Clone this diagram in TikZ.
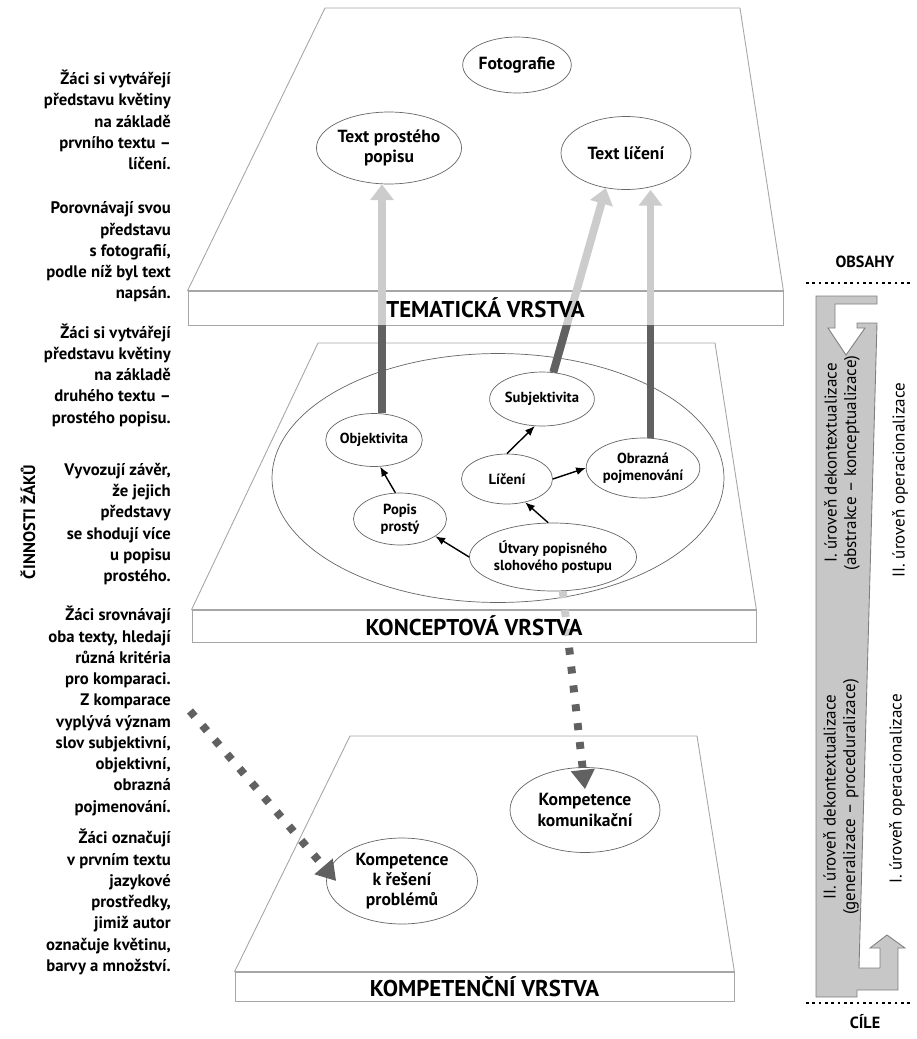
\documentclass[tikz,border=0pt]{standalone}
\usepackage{fontspec}
\setmainfont{PT Sans}
\usetikzlibrary{shapes.geometric,arrows.meta}

\tikzset{
  plane/.style={draw=black!35, fill=white, line width=0.5pt},
  slab/.style={draw=black!35, fill=white, line width=0.5pt, inner sep=0pt},
  layer/.style={font=\bfseries\fontsize{13}{15}\selectfont},
  bubble/.style={ellipse, draw=black!60, fill=white, inner sep=0pt, align=center,
    font=\bfseries\fontsize{10}{11.5}\selectfont},
  smallbubble/.style={bubble, font=\bfseries\fontsize{8.3}{9.6}\selectfont},
  pointer/.style={line width=0.8pt, -{Latex[length=5.5pt,width=4.5pt]}},
  lightbar/.style={line width=4.5pt, draw=black!20, -{Triangle[length=9pt,width=13pt]}},
  darkbar/.style={line width=4.5pt, draw=black!62},
  dashbar/.style={line width=4.5pt, draw=black!62, dash pattern=on 4pt off 6.8pt,
    -{Triangle[length=11pt,width=13pt]}},
  lightdash/.style={line width=4.5pt, draw=black!20, dash pattern=on 4pt off 6.8pt},
  activity/.style={anchor=east, align=right, font=\bfseries\fontsize{9.5}{12.1}\selectfont},
  band/.style={draw=black!50, fill=black!22, line width=0.5pt},
  side/.style={rotate=90, align=center, font=\fontsize{9.7}{11}\selectfont},
  pole/.style={font=\bfseries\fontsize{9.2}{11}\selectfont},
  rule/.style={line width=1.5pt, dash pattern=on 1.5pt off 2.1pt}
}

\begin{document}
\begin{tikzpicture}[x=0.02cm, y=-0.02cm]
  \useasboundingbox (0,0) rectangle (917,1039);

  % tematicka vrstva
  \node [slab, minimum width=11.9cm, minimum height=0.68cm] (temslab) at (485.5,308) {};
  \draw [plane] (325,8) -- (740,8) -- (temslab.north east) -- (temslab.north west) -- cycle;
  \node [bubble, minimum width=2cm, minimum height=1.12cm] (foto) at (517,65) {Fotografie};
  \node [bubble, minimum width=2.56cm, minimum height=1.44cm] (tpp) at (389,148) {Text prostého\\popisu};
  \node [bubble, minimum width=2.6cm, minimum height=1.46cm] (tli) at (626,153) {Text líčení};

  % konceptova vrstva
  \node [slab, minimum width=11.28cm, minimum height=0.64cm] (konslab) at (474,626) {};
  \draw [plane] (318,343) -- (715,343) -- (konslab.north east) -- (konslab.north west) -- cycle;
  \node [ellipse, draw=black!60, minimum width=9.04cm, minimum height=4.98cm] (konc) at (498,478) {};
  \node [smallbubble, minimum width=1.84cm, minimum height=1.06cm] (obj) at (374,440) {Objektivita};
  \node [smallbubble, minimum width=1.84cm, minimum height=1.08cm] (subj) at (542,399) {Subjektivita};
  \node [smallbubble, minimum width=1.82cm, minimum height=1cm] (lic) at (507,479) {Líčení};
  \node [smallbubble, minimum width=2.2cm, minimum height=1.2cm] (obr) at (643,468) {Obrazná\\pojmenování};
  \node [smallbubble, minimum width=1.86cm, minimum height=1.04cm] (pop) at (400,519) {Popis\\prostý};
  \node [smallbubble, minimum width=2.86cm, minimum height=1.36cm] (utv) at (553,557) {Útvary popisného\\slohového postupu};

  \draw [pointer] (pop.100) -- (obj.283);
  \draw [pointer] (utv.west) -- (pop.-26);
  \draw [pointer] (utv.98) -- (lic.-52);
  \draw [pointer] (lic.north) -- (subj.255);
  \draw [pointer] (lic.east) -- (obr.west);

  % kompetencni vrstva
  \node [slab, minimum width=9.98cm, minimum height=0.58cm] (kmpslab) at (484.5,986.5) {};
  \draw [plane] (350,736) -- (697,736) -- (kmpslab.north east) -- (kmpslab.north west) -- cycle;
  \node [bubble, minimum width=3cm, minimum height=1.7cm] (kom) at (585,810) {Kompetence\\komunikační};
  \node [bubble, minimum width=3.02cm, minimum height=1.72cm] (res) at (402,881) {Kompetence\\k řešení\\problémů};

  % vazby mezi vrstvami
  \draw [lightbar] ([xshift=0.16cm]obj.north) -- ([xshift=0.16cm]obj.north |- tpp.south);
  \draw [lightbar] (subj.67) -- (tli.240);
  \draw [lightbar] (obr.76) -- (obr.76 |- tli.south);
  \begin{scope}
    \clip (0,325) rectangle (917,1039);
    \draw [darkbar] ([xshift=0.16cm]obj.north) -- ([xshift=0.16cm]obj.north |- tpp.south);
    \draw [darkbar] (subj.67) -- (tli.240);
    \draw [darkbar] (obr.76) -- (obr.76 |- tli.south);
  \end{scope}
  \begin{scope}
    \clip (0,0) rectangle (917,642);
    \draw [lightdash] (utv.286) -- ([yshift=-0.44cm]kom.north);
  \end{scope}
  \begin{scope}
    \clip (0,642) rectangle (917,1039);
    \draw [dashbar] (utv.286) -- ([yshift=-0.44cm]kom.north);
  \end{scope}

  \node [layer] at (temslab) {TEMATICKÁ VRSTVA};
  \node [layer] at (konslab) {KONCEPTOVÁ VRSTVA};
  \node [layer] at (kmpslab) {KOMPETENČNÍ VRSTVA};

  % cinnosti zaku
  \node [rotate=90, font=\bfseries\fontsize{9.5}{11}\selectfont] (cin) at (28,522) {ČINNOSTI ŽÁKŮ};
  \node [activity] (act1) at (177,120) {Žáci si vytvářejí\\představu květiny\\na základě\\prvního textu –\\líčení.};
  \node [activity] (act2) at (177,252) {Porovnávají svou\\představu\\s fotografií,\\podle níž byl text\\napsán.};
  \node [activity] (act3) at (177,375) {Žáci si vytvářejí\\představu květiny\\na základě\\druhého textu –\\prostého popisu.};
  \node [activity] (act4) at (177,524) {Vyvozují závěr,\\že jejich\\představy\\se shodují více\\u popisu\\prostého.};
  \node [activity] (act5) at (177,711) {Žáci srovnávají\\oba texty, hledají\\různá kritéria\\pro komparaci.\\Z komparace\\vyplývá význam\\slov subjektivní,\\objektivní,\\obrazná\\pojmenování.};
  \node [activity] (act6) at (177,902) {Žáci označují\\v prvním textu\\jazykové\\prostředky,\\jimiž autor\\označuje květinu,\\barvy a množství.};

  \draw [dashbar] ([xshift=0.26cm]act5.east) -- ([xshift=0.2cm]res.west);

  % obsahy a cile
  \node [pole] (obs) at (865,262) {OBSAHY};
  \node [pole] (cil) at (865,1022) {CÍLE};
  \draw [rule] (806,283) -- (913,283);
  \draw [rule] (806,1003) -- (913,1003);

  \draw [band] (816,296) -- (877,296) -- (877,304) -- (835,304) -- (835,328) -- (828,328)
    -- (846,355) -- (865,328) -- (857,328) -- (857,323) -- (877,323) -- (859,968)
    -- (880,968) -- (880,948) -- (870,948) -- (887,935) -- (905,948) -- (898,948)
    -- (898,990) -- (857,990) -- (857,997) -- (816,997) -- cycle;

  \node [side] (dek1) at (842,463) {I. úroveň dekontextualizace\\(abstrakce – konceptualizace)};
  \node [side] (dek2) at (841,797) {II. úroveň dekontextualizace\\(generalizace – proceduralizace)};
  \node [side] (op2) at (900,480) {II. úroveň operacionalizace};
  \node [side] (op1) at (897,789) {I. úroveň operacionalizace};
\end{tikzpicture}
\end{document}
